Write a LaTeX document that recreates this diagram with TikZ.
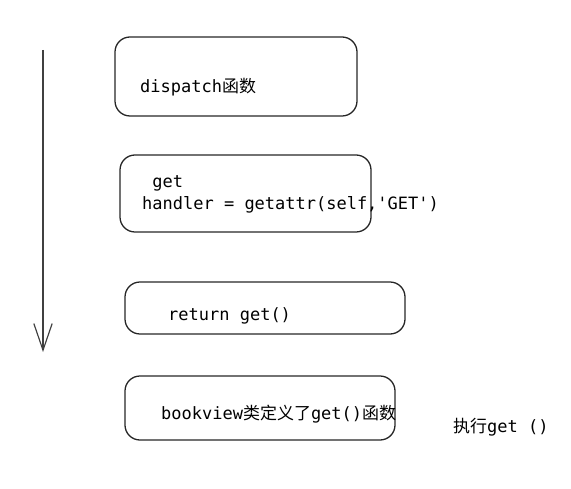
\documentclass[tikz,border=0pt]{standalone}
\usepackage{fontspec}
\setmainfont{DejaVu Sans Mono}
\newfontfamily\cjk{Noto Sans CJK SC}
\usetikzlibrary{arrows.meta}

\begin{document}
\begin{tikzpicture}
      [%%%%%%%%%%%%%%%%%%%%%%%%%%%%%%
      x=0.03cm, y=-0.03cm,
      box/.style={rectangle, rounded corners=0.45cm, draw=black!85, line width=1.1pt, inner sep=0pt},
      code/.style={anchor=base west, inner sep=0pt, text=black, align=left, font=\fontsize{14.5}{19.6}\selectfont},
      flow/.style={draw=black!75, line width=1pt, -{Straight Barb[length=0.8cm, width=0.55cm]}},
      ]%%%%%%%%%%%%%%%%%%%%%%%%%%%%%%
      \useasboundingbox (0,0) rectangle (571,489);

      % \node[box] (start) at (236,0){};
      \node[box, minimum width=7.26cm, minimum height=2.37cm] (dispatch) at (236,76.5){};
      \node[box, minimum width=7.53cm, minimum height=2.31cm] (handler) at (245.5,193.5){};
      \node[box, minimum width=8.40cm, minimum height=1.56cm] (ret) at (265,308){};
      \node[box, minimum width=8.10cm, minimum height=1.92cm] (bookview) at (260,408){};

      \node[code] (dispatchtxt) at (140,93){dispatch{\cjk 函数}};
      \node[code] (handlertxt) at (142,210){\ get\\handler = getattr(self,\textquotesingle GET\textquotesingle)};
      \node[code] (rettxt) at (168,320){return get()};
      \node[code] (booktxt) at (161,419){bookview{\cjk 类定义了}get(){\cjk 函数}};
      \node[code] (runtxt) at (453,432){{\cjk 执行}get ()};

      \coordinate (top) at (43,50);
      \coordinate (bottom) at (43,352);
      \draw[flow] (top) -- (bottom);
    \end{tikzpicture}
\end{document}
